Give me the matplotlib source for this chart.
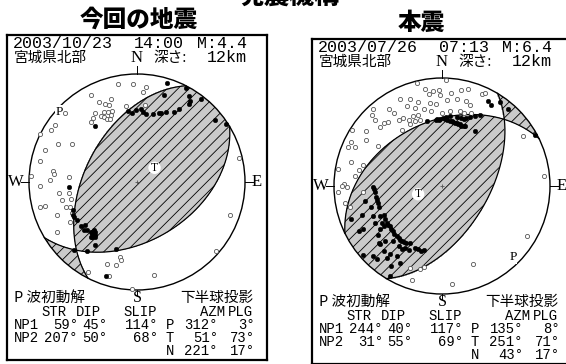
import numpy as np
import matplotlib.pyplot as plt
from matplotlib.patches import Circle

plt.rcParams['font.family'] = ['Noto Sans CJK JP', 'DejaVu Sans']
plt.rcParams['hatch.linewidth'] = 0.6
plt.rcParams['hatch.color'] = 'black'

# ---- データ ----
titles = ["今回の地震", "本震"]
fechas = ["2003/10/23", "2003/07/26"]
horas = ["14:00", "07:13"]
mags = ["M:4.4", "M:6.4"]
region = "宮城県北部"
profs = ["12km", "12km"]

np1 = [(59, 45, 114), (244, 40, 117)]
np2 = [(207, 50, 68), (31, 55, 69)]
eje_p = [(312, 3), (135, 8)]
eje_t = [(51, 73), (251, 71)]
eje_n = [(221, 17), (43, 17)]

# 初動 (東, 北) 下半球等積投影, 半径 1
izq_push = [(0.28, 0.92), (0.45, 0.87), (0.25, 0.81), (0.48, 0.80), (0.49, 0.75), (0.48, 0.72),
            (0.59, 0.77), (-0.08, 0.66), (-0.05, 0.64), (-0.01, 0.67), (0.04, 0.68), (0.06, 0.65),
            (0.08, 0.63), (0.15, 0.63), (0.20, 0.64), (0.22, 0.64), (0.27, 0.65), (0.34, 0.65),
            (0.39, 0.68), (0.72, 0.57), (0.82, 0.54), (-0.39, 0.52), (-0.63, -0.05), (-0.59, -0.26),
            (-0.59, -0.31), (-0.56, -0.35), (-0.58, -0.32), (-0.52, -0.41), (-0.49, -0.44),
            (-0.48, -0.40), (-0.46, -0.44), (-0.43, -0.46), (-0.42, -0.48), (-0.40, -0.47),
            (-0.39, -0.49), (-0.39, -0.51), (-0.42, -0.51), (-0.43, -0.51), (-0.40, -0.44),
            (-0.39, -0.46), (-0.39, -0.58), (-0.46, -0.64), (-0.58, -0.63), (-0.19, -0.62),
            (-0.29, -0.87)]
izq_pull = [(-0.18, 0.91), (-0.04, 0.91), (0.08, 0.88), (0.06, 0.83), (-0.43, 0.81), (-0.24, 0.77),
            (-0.35, 0.74), (-0.30, 0.72), (-0.26, 0.71), (-0.23, 0.66), (-0.27, 0.65), (-0.31, 0.65),
            (-0.33, 0.61), (-0.31, 0.60), (-0.28, 0.58), (-0.25, 0.58), (-0.24, 0.62), (-0.39, 0.64),
            (-0.41, 0.59), (-0.43, 0.56), (-0.10, 0.70), (0.07, 0.71), (-0.67, 0.64), (-0.80, 0.48),
            (-0.76, 0.53), (-0.90, 0.44), (-0.85, 0.30), (-0.73, 0.35), (-0.60, 0.35), (-0.90, 0.19),
            (-0.78, 0.10), (-0.77, 0.07), (-0.81, 0.02), (-0.63, 0.05), (-0.98, 0.06), (-0.90, -0.04),
            (-0.72, -0.10), (-0.63, -0.10), (-0.61, -0.16), (-0.69, -0.17), (-0.66, -0.23),
            (-0.62, -0.23), (-0.60, -0.29), (-0.74, -0.31), (-0.90, -0.23), (-0.85, -0.22),
            (-0.62, -0.37), (-0.74, -0.46), (0.94, 0.22), (0.86, -0.31), (0.73, -0.64),
            (-0.16, -0.69), (-0.15, -0.72), (-0.19, -0.77), (-0.28, -0.76), (-0.45, -0.83),
            (0.16, -0.86), (-0.26, -0.87), (-0.05, -0.99)]

der_push = [(0.43, 0.79), (0.45, 0.75), (0.54, 0.78), (0.61, 0.71), (0.86, 0.47), (-0.14, 0.60),
            (-0.06, 0.61), (-0.05, 0.62), (-0.03, 0.61), (-0.02, 0.62), (0.01, 0.63), (0.03, 0.62),
            (0.04, 0.64), (0.05, 0.61), (0.07, 0.60), (0.09, 0.60), (0.10, 0.59), (0.12, 0.58),
            (0.14, 0.58), (0.15, 0.57), (0.17, 0.57), (0.18, 0.56), (0.20, 0.56), (0.21, 0.56),
            (0.20, 0.62), (0.22, 0.63), (0.26, 0.64), (0.31, 0.65), (0.35, 0.66), (0.31, 0.51),
            (0.07, 0.65), (0.14, 0.64), (0.18, 0.63), (-0.64, -0.01), (-0.63, -0.03), (-0.62, -0.06),
            (-0.61, -0.10), (-0.60, -0.13), (-0.59, -0.16), (-0.58, -0.19), (-0.66, -0.19),
            (-0.71, -0.14), (-0.74, -0.27), (-0.84, -0.31), (-0.77, -0.42), (-0.73, -0.40),
            (-0.64, -0.28), (-0.62, -0.34), (-0.57, -0.28), (-0.54, -0.27), (-0.53, -0.31),
            (-0.51, -0.34), (-0.50, -0.36), (-0.48, -0.37), (-0.47, -0.40), (-0.45, -0.42),
            (-0.44, -0.44), (-0.42, -0.46), (-0.40, -0.48), (-0.39, -0.50), (-0.37, -0.51),
            (-0.35, -0.52), (-0.33, -0.53), (-0.30, -0.53), (-0.56, -0.34), (-0.54, -0.37),
            (-0.57, -0.40), (-0.59, -0.45), (-0.58, -0.53), (-0.57, -0.54), (-0.53, -0.51),
            (-0.45, -0.51), (-0.40, -0.56), (-0.37, -0.58), (-0.34, -0.57), (-0.31, -0.59),
            (-0.25, -0.57), (-0.22, -0.58), (-0.19, -0.60), (-0.17, -0.59), (-0.54, -0.60),
            (-0.48, -0.63), (-0.51, -0.67), (-0.42, -0.65), (-0.39, -0.71), (-0.47, -0.74),
            (-0.73, -0.64), (-0.64, -0.65), (-0.60, -0.68), (-0.48, -0.83)]
der_pull = [(-0.23, 0.95), (0.04, 0.98), (-0.16, 0.90), (-0.08, 0.88), (-0.03, 0.89), (-0.12, 0.85),
            (-0.02, 0.84), (0.08, 0.86), (0.18, 0.89), (0.24, 0.90), (0.37, 0.85), (0.40, 0.86),
            (-0.39, 0.81), (-0.30, 0.81), (-0.22, 0.78), (-0.11, 0.77), (-0.06, 0.76), (0.05, 0.80),
            (0.14, 0.81), (0.22, 0.79), (0.26, 0.75), (-0.64, 0.71), (-0.49, 0.71), (-0.44, 0.68),
            (-0.32, 0.74), (-0.25, 0.72), (-0.17, 0.71), (-0.10, 0.69), (0.00, 0.68), (0.07, 0.69),
            (0.17, 0.69), (0.20, 0.68), (0.27, 0.68), (-0.65, 0.66), (-0.62, 0.61), (-0.54, 0.58),
            (-0.50, 0.59), (-0.40, 0.61), (-0.36, 0.63), (-0.31, 0.61), (-0.27, 0.65), (-0.25, 0.60),
            (-0.22, 0.66), (-0.20, 0.61), (-0.30, 0.57), (-0.37, 0.52), (-0.83, 0.52), (-0.70, 0.51),
            (-0.57, 0.55), (-0.84, 0.41), (-0.87, 0.36), (-0.81, 0.36), (-0.70, 0.43), (-0.59, 0.37),
            (-0.84, 0.22), (-0.96, 0.16), (-0.77, 0.15), (-0.81, 0.09), (-0.73, 0.19), (-0.91, 0.02),
            (-0.93, 0.00), (-0.88, -0.01), (-0.96, -0.06), (-0.73, -0.06), (-0.90, -0.16),
            (-0.85, -0.19), (0.75, 0.46), (0.94, 0.09), (0.79, -0.46), (0.29, -0.72), (0.09, -0.91),
            (-0.28, -0.87), (-0.17, -0.75), (-0.30, -0.76), (-0.20, -0.77)]

push = [izq_push, der_push]
pull = [izq_pull, der_pull]

W, H = 566, 364
R = 108.0
centros = [(137, 182), (442, 186)]
titulo_dx = [2, -21]


def proyectar(az, inc):
    r = np.sqrt(2) * np.sin(np.radians(inc) / 2)
    return r * np.sin(np.radians(az)), r * np.cos(np.radians(az))


def plano(strike, dip):
    s, d = np.radians(strike), np.radians(dip)
    t = np.linspace(0, np.pi, 300)
    vn = np.cos(t) * np.cos(s) - np.sin(t) * np.cos(d) * np.sin(s)
    ve = np.cos(t) * np.sin(s) + np.sin(t) * np.cos(d) * np.cos(s)
    vz = np.sin(t) * np.sin(d)
    inc = np.degrees(np.arccos(np.clip(vz, -1, 1)))
    az = np.degrees(np.arctan2(ve, vn))
    return proyectar(az, inc)


def amplitud(X, Y, strike, dip, rake):
    s, d, l = np.radians(strike), np.radians(dip), np.radians(rake)
    rr = np.clip(np.hypot(X, Y), 0, 1.0)
    inc = 2 * np.arcsin(rr / np.sqrt(2))
    az = np.arctan2(X, Y)
    g = [np.sin(inc) * np.cos(az), np.sin(inc) * np.sin(az), np.cos(inc)]
    n = [-np.sin(d) * np.sin(s), np.sin(d) * np.cos(s), -np.cos(d)]
    u = [np.cos(l) * np.cos(s) + np.cos(d) * np.sin(l) * np.sin(s),
         np.cos(l) * np.sin(s) - np.cos(d) * np.sin(l) * np.cos(s),
         -np.sin(l) * np.sin(d)]
    gn = g[0] * n[0] + g[1] * n[1] + g[2] * n[2]
    gu = g[0] * u[0] + g[1] * u[1] + g[2] * u[2]
    return gn * gu


fig = plt.figure(figsize=(W / 100, H / 100), dpi=100)
fig.text(290 / W, 1 + 3 / H, "発震機構", ha='center', va='center', fontsize=18, fontweight='black')

mono = 'Liberation Mono'
serif = 'Liberation Serif'

for k in range(2):
    cx, cy = centros[k]
    ax = fig.add_axes([(cx - 130) / W, (H - (cy + 178)) / H, 260 / W, 325 / H])
    ax.set_xlim(-130 / R, 130 / R)
    ax.set_ylim(-178 / R, 147 / R)
    ax.set_xticks([])
    ax.set_yticks([])
    for sp in ax.spines.values():
        sp.set_linewidth(1.6)

    def txt(dx, dy, s, **kw):
        ax.text(dx / R, -dy / R, s, clip_on=False, **kw)

    # 押し領域
    g = np.linspace(-1.02, 1.02, 600)
    X, Y = np.meshgrid(g, g)
    A = amplitud(X, Y, *np1[k])
    cs = ax.contourf(X, Y, A, levels=[0, A.max() + 1], colors=['#cacaca'], hatches=['///'], zorder=1)
    cs.set_clip_path(Circle((0, 0), 1, transform=ax.transData))

    for pl in (np1[k], np2[k]):
        x, y = plano(pl[0], pl[1])
        ax.plot(x, y, color='black', lw=0.9, zorder=2)
    ax.add_patch(Circle((0, 0), 1, fill=False, ec='black', lw=1.0, zorder=2))

    # 方位の目盛
    ax.plot([0, 0], [1, 1.07], color='black', lw=0.7)
    ax.plot([0, 0], [-1, -1.05], color='black', lw=0.7)
    ax.plot([1, 1.07], [0, 0], color='black', lw=0.7)
    ax.plot([-1, -1.07], [0, 0], color='black', lw=0.7)
    ax.plot([0], [0], marker='+', ms=3, color='#555555', mew=0.6)

    pu = np.array(push[k])
    pd = np.array(pull[k])
    ax.scatter(pd[:, 0], pd[:, 1], s=9, facecolor='white', edgecolor='#555555', linewidth=0.6, zorder=3)
    ax.scatter(pu[:, 0], pu[:, 1], s=11, facecolor='black', edgecolor='black', linewidth=0.3, zorder=3)

    tx, ty = proyectar(eje_t[k][0], 90 - eje_t[k][1])
    ax.scatter([tx], [ty], s=80, facecolor='white', edgecolor='none', zorder=4)
    ax.text(tx, ty, "T", ha='center', va='center', fontsize=8.5, family=serif, zorder=5)
    px, py = proyectar(eje_p[k][0], 90 - eje_p[k][1])
    ax.text(px, py, "P", ha='center', va='center', fontsize=9.5, family=serif, zorder=5,
            bbox=dict(boxstyle='square,pad=0.05', fc='white', ec='none'))

    # 文字
    txt(titulo_dx[k], -163, titles[k], ha='center', va='center', fontsize=17, fontweight='black')
    txt(-124, -138, fechas[k], family=mono, fontsize=12, va='center', ha='left')
    txt(-3, -138, horas[k], family=mono, fontsize=12, va='center', ha='left')
    txt(110, -138, mags[k], family=mono, fontsize=12, va='center', ha='right')
    txt(-123, -124, region, fontsize=10.5, va='center', ha='left')
    txt(0, -124, "N", family=serif, fontsize=12, va='center', ha='center')
    txt(16, -124, "深さ:", fontsize=10.5, va='center', ha='left')
    txt(110, -124, profs[k], family=mono, fontsize=12, va='center', ha='right')
    txt(-121, 0, "W", family=serif, fontsize=12, va='center', ha='center')
    txt(120, 0, "E", family=serif, fontsize=12, va='center', ha='center')
    txt(0, 116, "S", family=serif, fontsize=11.5, va='center', ha='center')

    txt(-123, 116, "P 波初動解", fontsize=10.5, va='center', ha='left')
    txt(43, 116, "下半球投影", fontsize=10.5, va='center', ha='left')
    kw = dict(family=mono, fontsize=10, va='center', ha='right')
    txt(-70, 130, "STR", **kw)
    txt(-36, 130, "DIP", **kw)
    txt(20, 130, "SLIP", **kw)
    txt(88, 130, "AZM", **kw)
    txt(116, 130, "PLG", **kw)
    filas = [("NP1", np1[k], "P", eje_p[k]), ("NP2", np2[k], "T", eje_t[k]), ("", None, "N", eje_n[k])]
    for j, (nom, pl, eje, ang) in enumerate(filas):
        dy = 143 + 13 * j
        if pl is not None:
            txt(-123, dy, nom, family=mono, fontsize=10, va='center', ha='left')
            txt(-59, dy, f"{pl[0]}°", **kw)
            txt(-30, dy, f"{pl[1]}°", **kw)
            txt(21, dy, f"{pl[2]}°", **kw)
        txt(33, dy, eje, family=mono, fontsize=10, va='center', ha='center')
        txt(81, dy, f"{ang[0]}°", **kw)
        txt(118, dy, f"{ang[1]}°", **kw)

fig.savefig("out.png", dpi=100)
